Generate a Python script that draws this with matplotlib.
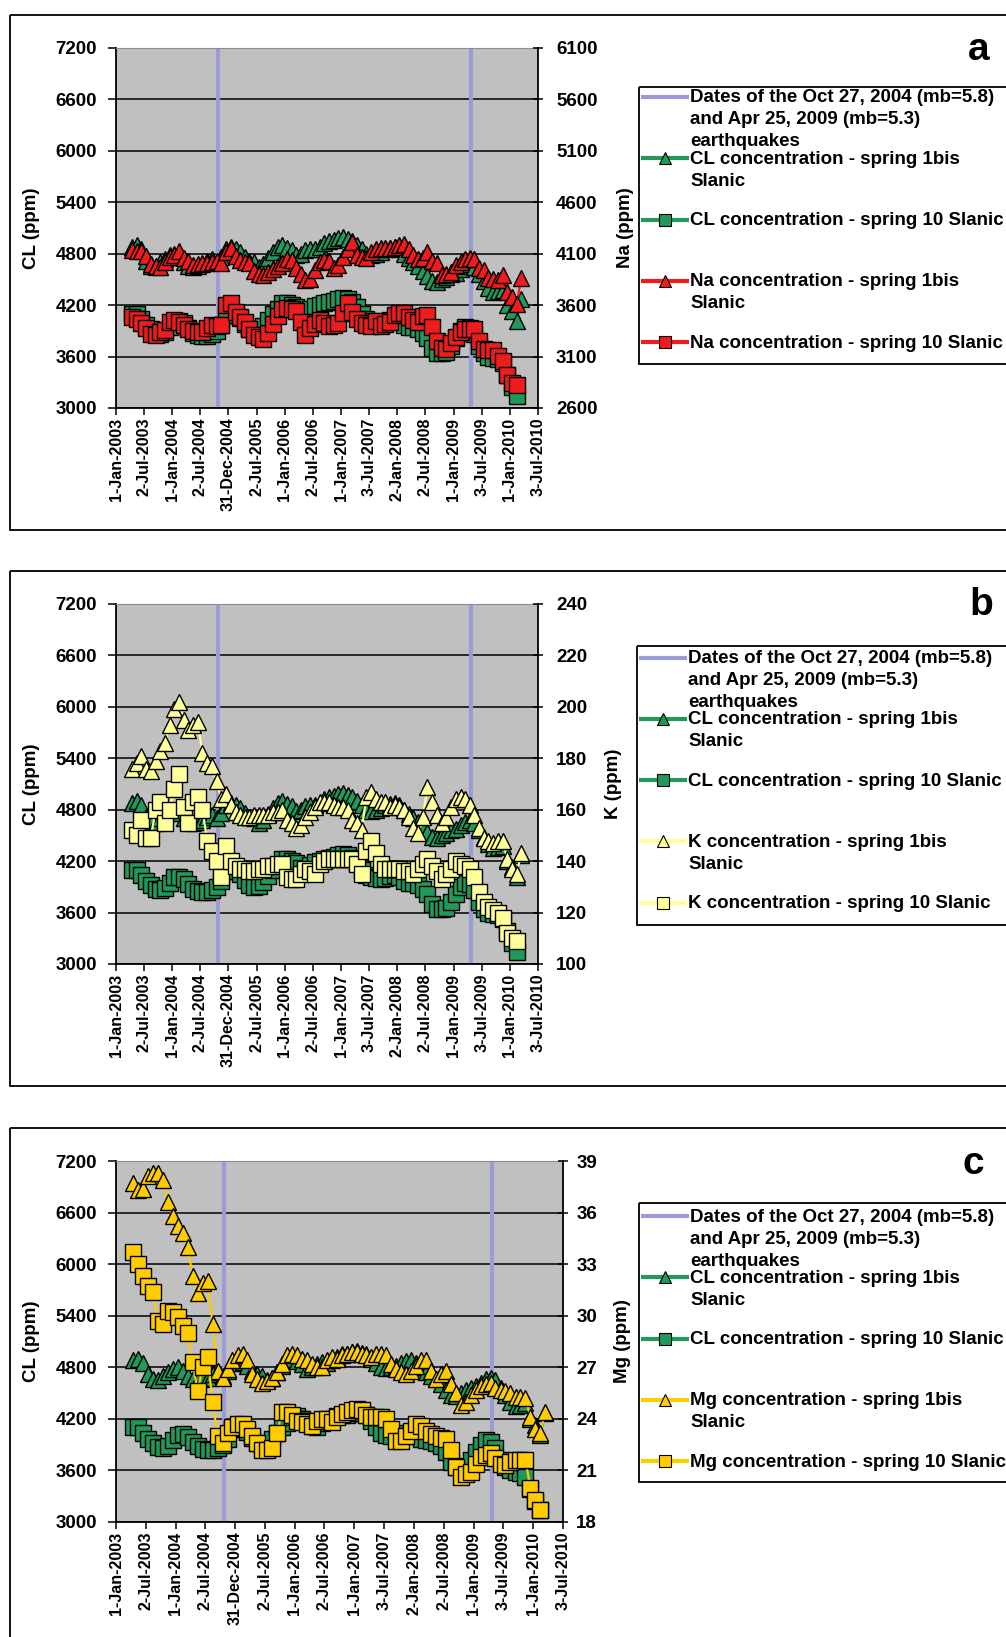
import numpy as np
import pandas as pd
import matplotlib
matplotlib.use("Agg")
import matplotlib.pyplot as plt
import matplotlib.dates as mdates
from matplotlib.patches import Rectangle

plt.rcParams["font.family"] = ["Liberation Sans", "DejaVu Sans"]
plt.rcParams["font.weight"] = "bold"
plt.rcParams["axes.labelweight"] = "bold"

W, H, DPI = 1006, 1637, 100

# ---- data ---------------------------------------------------------------
# roughly one sample a month, Apr 2003 .. Mar 2010
sample_dates = pd.date_range("2003-04-01", "2010-03-01", freq="MS") + pd.Timedelta(days=14)
quake_dates = ["2004-10-27", "2009-04-25"]

tick_dates = ["2003-01-01", "2003-07-02", "2004-01-01", "2004-07-02", "2004-12-31",
              "2005-07-02", "2006-01-01", "2006-07-02", "2007-01-01", "2007-07-03",
              "2008-01-02", "2008-07-02", "2009-01-01", "2009-07-03", "2010-01-01",
              "2010-07-03"]
tick_labels = ["1-Jan-2003", "2-Jul-2003", "1-Jan-2004", "2-Jul-2004", "31-Dec-2004",
               "2-Jul-2005", "1-Jan-2006", "2-Jul-2006", "1-Jan-2007", "3-Jul-2007",
               "2-Jan-2008", "2-Jul-2008", "1-Jan-2009", "3-Jul-2009", "1-Jan-2010",
               "3-Jul-2010"]

cl_ticks = [3000, 3600, 4200, 4800, 5400, 6000, 6600, 7200]
na_ticks = [2600, 3100, 3600, 4100, 4600, 5100, 5600, 6100]
k_ticks = [100, 120, 140, 160, 180, 200, 220, 240]
mg_ticks = [18, 21, 24, 27, 30, 33, 36, 39]

nan = np.nan
cl_1bis = [4880, 4900, 4850, 4720, 4660, 4650, 4700, 4740, 4780,
           4800, 4760, 4700, 4660, 4650, 4660, 4680, 4720, 4740, 4700, 4760, 4850,
           4880, 4860, 4820, 4760, 4720, 4700, 4650, 4680, 4750, 4820, 4880, 4900,
           4870, 4840, 4780, 4800, 4840, 4860, 4850, 4880, 4920, 4950, 4960, 4980,
           4990, 4970, 4950, 4900, 4850, 4800, 4790, 4800, 4820, 4850, 4870, 4880,
           4850, 4800, 4750, 4700, 4660, 4600, 4540, 4480, 4470, 4500, 4530, 4560,
           4580, 4620, 4660, 4680, 4650, 4560, 4480, 4400, 4350, 4360, 4380, 4200,
           4130, 4010, 4270]
cl_10 = [4100, 4100, 4040, 3970, 3920, 3870, 3860, 3890, 3950,
         4010, 4020, 3990, 3930, 3880, 3850, 3840, 3840, 3860, 3900, 3970, 4080,
         4120, 4090, 4050, 3980, 3920, 3900, 3910, 3960, 4030, 4100, 4150, 4220,
         4230, 4200, 4180, 4120, 4100, 4150, 4190, 4200, 4230, 4240, 4250, 4270,
         4280, 4270, 4240, 4180, 4100, 4040, 4010, 4000, 3990, 4000, 4030, 4040,
         4020, 3970, 3950, 3940, 3920, 3880, 3820, 3700, 3640, 3640, 3650, 3720,
         3820, 3900, 3950, 3930, 3860, 3720, 3640, 3600, 3580, 3570, 3520, 3380,
         3250, 3140, nan]
na_1bis = [4140, 4130, 4125, 4080, 4000, 3980, 3975, 4020, 4070,
           4090, 4125, 4060, 4030, 3990, 4000, 4010, 4010, 4020, 4025, 4010, 4120,
           4160, 4080, 4040, 4020, 4010, 3930, 3900, 3890, 3920, 3950, 3980, 4010,
           4050, 4040, 3960, 3900, 3840, 3850, 3940, 4020, 4040, 4030, 3960, 3990,
           4070, 4150, 4210, 4090, 4070, 4060, 4120, 4150, 4160, 4160, 4160, 4170,
           4180, 4190, 4150, 4090, 4050, 4060, 4120, 4030, 4010, 3890, 3900, 3920,
           3990, 4020, 4050, 4060, 4050, 3960, 3940, 3860, 3850, 3840, 3890, 3730,
           3680, 3610, 3860]
na_10 = [3480, 3470, 3430, 3380, 3320, 3310, 3340, 3360, 3440,
         3460, 3440, 3410, 3370, 3350, 3340, 3340, 3380, 3410, 3400, 3410, 3600,
         3620, 3530, 3480, 3440, 3370, 3310, 3290, 3270, 3330, 3420, 3490, 3560,
         3570, 3560, 3540, 3440, 3310, 3380, 3420, 3460, 3430, 3400, 3410, 3430,
         3520, 3620, 3530, 3470, 3430, 3410, 3400, 3450, 3400, 3420, 3440, 3500,
         3520, 3520, 3480, 3460, 3440, 3490, 3500, 3390, 3250, 3180, 3170, 3230,
         3290, 3340, 3370, 3370, 3370, 3250, 3170, 3160, 3160, 3110, 3060, 2920,
         2840, 2820, nan]
k_1bis = [176, 178, 181, 176, 175, 179, 183, 186, 193,
          199, 202, 195, 191, 193, 194, 182, 178, 177, 171, 164, 166,
          162, 159, 158, 157, 157, 158, 158, 158, 158, 159, 159, 160,
          156, 155, 153, 154, 157, 159, 161, 163, 163, 163, 162, 161,
          161, 160, 156, 155, 152, 165, 167, 164, 163, 163, 161, 162,
          161, 160, 157, 153, 151, 157, 169, 163, 158, 155, 157, 161,
          164, 165, 164, 162, 158, 153, 149, 148, 147, 148, 148, 141,
          137, 135, 143]
k_10 = [152, 150, 156, 149, 149, 160, 163, 155, 160,
        168, 174, 161, 155, 163, 165, 160, 148, 144, 140, 134, 146,
        140, 138, 137, 137, 136, 136, 137, 137, 138, 138, 139, 139,
        134, 133, 133, 135, 137, 136, 135, 139, 140, 141, 141, 141,
        141, 141, 141, 139, 135, 144, 148, 143, 139, 137, 137, 137,
        137, 136, 136, 135, 137, 139, 141, 138, 136, 133, 135, 137,
        140, 139, 138, 137, 134, 128, 124, 122, 121, 120, 118, 112,
        110, 109, nan]
mg_1bis = [37.7, 37.3, 37.4, 38.1, 38.3, 38.3, 37.9, 36.6, 35.8,
           35.2, 34.8, 34.0, 32.3, 31.3, 31.9, 32.0, 29.5, 26.8, 26.4, 26.9, 27.4,
           27.7, 27.8, 27.4, 26.6, 26.3, 26.1, 26.2, 26.4, 26.7, 27.2, 27.7, 27.8,
           27.7, 27.5, 27.4, 27.2, 27.0, 27.0, 27.4, 27.6, 27.5, 27.7, 27.8, 27.9,
           27.9, 27.8, 27.7, 27.6, 27.8, 27.8, 27.7, 27.2, 26.9, 26.7, 26.6, 26.8,
           27.1, 27.4, 27.4, 26.8, 26.3, 26.6, 26.8, 26.0, 25.5, 24.8, 25.0, 25.4,
           25.7, 25.9, 26.0, 26.1, 25.8, 25.7, 25.6, 25.5, 25.3, 25.3, 25.2, 24.1,
           23.4, 23.2, 24.4]
mg_10 = [33.7, 33.0, 32.3, 31.7, 31.4, 29.7, 29.5, 30.3, 30.2,
         29.9, 29.4, 29.0, 27.3, 25.6, 27.0, 27.6, 25.0, 23.0, 22.6, 23.2, 23.5,
         23.7, 23.7, 23.4, 23.0, 22.6, 22.2, 22.2, 22.3, 23.2, 24.4, 24.4, 24.2,
         23.9, 23.8, 23.7, 23.6, 23.9, 24.0, 24.0, 23.8, 24.1, 24.3, 24.4, 24.5,
         24.6, 24.5, 24.2, 24.1, 24.1, 24.1, 24.0, 23.4, 22.7, 22.7, 23.0, 23.3,
         23.7, 23.6, 23.3, 23.1, 23.0, 22.9, 22.8, 22.2, 21.2, 20.6, 20.8, 20.9,
         21.4, 21.8, 21.9, 22.0, 21.7, 21.4, 21.3, 21.5, 21.6, 21.6, 21.6, 20.0,
         19.3, 18.7, nan]

quake_label = "Dates of the Oct 27, 2004 (mb=5.8)\nand Apr 25, 2009 (mb=5.3)\nearthquakes"
legend_a = [quake_label, "CL concentration - spring 1bis\nSlanic",
            "CL concentration - spring 10 Slanic",
            "Na concentration - spring 1bis\nSlanic", "Na concentration - spring 10 Slanic"]
legend_b = [quake_label, "CL concentration - spring 1bis\nSlanic",
            "CL concentration - spring 10 Slanic",
            "K concentration - spring 1bis\nSlanic", "K concentration - spring 10 Slanic"]
legend_c = [quake_label, "CL concentration - spring 1bis\nSlanic",
            "CL concentration - spring 10 Slanic",
            "Mg concentration - spring 1bis\nSlanic", "Mg concentration - spring 10 Slanic"]

# ---- style --------------------------------------------------------------
green = "#22995A"
red = "#EE1C1C"
k_yellow = "#FFFF99"
mg_gold = "#FFCC00"
lavender = "#9B9BD6"
plot_grey = "#C0C0C0"

to_num = lambda d: mdates.date2num(pd.to_datetime(d).to_pydatetime())
x_samples = to_num(sample_dates)
x_quakes = to_num(quake_dates)
x_ticks = to_num(tick_dates)
x_lo, x_hi = to_num(["2003-01-01", "2010-07-03"])

fig = plt.figure(figsize=(W / DPI, H / DPI), dpi=DPI)

# overlay in pixel coordinates for frames, legends and letters
ov = fig.add_axes([0, 0, 1, 1])
ov.set_xlim(0, W)
ov.set_ylim(H, 0)
ov.axis("off")


def add_axes_px(left, top, right, bottom):
    return fig.add_axes([left / W, 1 - bottom / H, (right - left) / W, (bottom - top) / H])


def draw_series(ax, y, colour, marker):
    ms = 11 if marker == "^" else 11.5
    ax.plot(x_samples, y, color=colour, lw=1.6, marker=marker, ms=ms,
            mfc=colour, mec="black", mew=1.0, zorder=3)


def panel(top, bottom, right, y_1bis, y_10, colour, r_lim, r_ticks, r_label,
          r_label_x, r_pad):
    left = 116
    ax = add_axes_px(left, top, right, bottom)
    width = right - left
    ax.set_facecolor(plot_grey)
    ax.set_xlim(x_lo, x_hi)
    ax.set_ylim(3000, 7200)
    ax.set_yticks(cl_ticks)
    ax.yaxis.grid(True, color="black", lw=1.1)
    ax.set_axisbelow(True)
    ax.set_xticks(x_ticks)
    ax.set_xticklabels(tick_labels, rotation=90, fontsize=11.5)
    ax.tick_params(axis="x", direction="out", length=5, width=1.1, pad=2)
    ax.tick_params(axis="y", direction="out", length=5.5, width=1.1, pad=8, labelsize=13.5)
    ax.spines["left"].set_linewidth(1.3)
    ax.spines["bottom"].set_linewidth(1.3)
    ax.spines["top"].set_color("#8C8C8C")
    ax.spines["right"].set_visible(False)
    ax.set_ylabel("CL (ppm)", fontsize=13.5)
    ax.yaxis.set_label_coords((40 - left) / width, 0.5)

    for xq in x_quakes:
        ax.axvline(xq, color=lavender, lw=3, zorder=2)
    draw_series(ax, cl_1bis, green, "^")
    draw_series(ax, cl_10, green, "s")

    ax2 = ax.twinx()
    ax2.set_ylim(*r_lim)
    ax2.set_yticks(r_ticks)
    for s in ("left", "top", "bottom"):
        ax2.spines[s].set_visible(False)
    ax2.spines["right"].set_linewidth(1.3)
    ax2.tick_params(axis="y", direction="inout", length=7, width=1.1, pad=r_pad, labelsize=13.5)
    ax2.set_ylabel(r_label, fontsize=13.5)
    ax2.yaxis.set_label_coords((r_label_x - left) / width, 0.5)
    draw_series(ax2, y_1bis, colour, "^")
    draw_series(ax2, y_10, colour, "s")
    return ax, ax2


def frame(top, bottom):
    ov.add_patch(Rectangle((10.5, top), 1200, bottom - top, fill=False, ec="black", lw=1.3))


def legend(left, top, bottom, first_y, labels, colour):
    ov.add_patch(Rectangle((left, top), 600, bottom - top, fill=False, ec="black", lw=1.3))
    handles = [(lavender, None, None), (green, "^", green), (green, "s", green),
               (colour, "^", colour), (colour, "s", colour)]
    for i, (label, (c, m, fc)) in enumerate(zip(labels, handles)):
        y = first_y + i * 61.3
        ov.plot([left + 2, left + 50], [y, y], color=c, lw=3, solid_capstyle="butt")
        if m:
            ov.plot([left + 26], [y], marker=m, ms=8, mfc=fc, mec="black", mew=0.8, ls="none")
        for k, line in enumerate(label.split("\n")):
            ov.text(left + 51, y + 1 + k * 22, line, fontsize=13.5, va="center", ha="left")


# panel a
frame(15, 530)
panel(48, 408, 538, na_1bis, na_10, red, (2600, 6100), na_ticks, "Na (ppm)", 617, 9.5)
legend(639, 87, 364, 97, legend_a, red)
ov.text(979, 50, "a", fontsize=28, ha="center", va="center")

# panel b
frame(571, 1086)
panel(604, 964, 538, k_1bis, k_10, k_yellow, (100, 240), k_ticks, "K (ppm)", 605, 9.5)
legend(637, 646, 925, 657.5, legend_b, k_yellow)
ov.text(981, 605, "b", fontsize=28, ha="center", va="center")

# panel c
frame(1128, 1700)
panel(1161, 1522, 563, mg_1bis, mg_10, mg_gold, (18, 39), mg_ticks, "Mg (ppm)", 614, 6)
legend(639, 1203, 1482, 1216, legend_c, mg_gold)
ov.text(973, 1164, "c", fontsize=28, ha="center", va="center")

fig.savefig("out.png", dpi=DPI, facecolor="white")
